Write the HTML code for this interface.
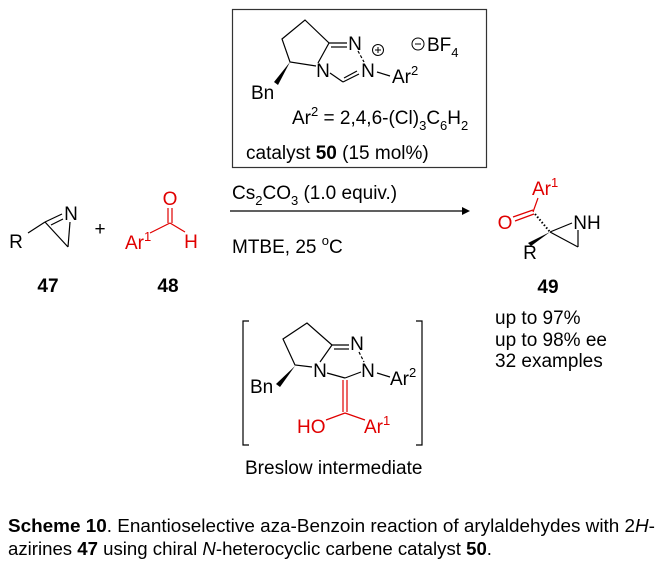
<!DOCTYPE html>
<html><head><meta charset="utf-8"><style>
html,body{margin:0;padding:0;background:#fff;}
svg{display:block;font-family:"Liberation Sans",Arial,sans-serif;}
.t{font-size:19px;fill:#000;}
.r{fill:#e00000;font-size:19px;}
.s{font-size:13px;}
.m{text-anchor:middle;}
</style></head><body>
<svg width="663" height="565" viewBox="0 0 663 565" xmlns="http://www.w3.org/2000/svg">
<g stroke="#000" stroke-width="1.2" fill="none">
<rect x="232.5" y="9.5" width="254" height="158" stroke="#333"/>
<polyline points="316,66 290,62 282,39 305,20 329,43 318,63"/>
<line x1="329" y1="43" x2="347" y2="43"/><line x1="331" y1="47" x2="347" y2="47"/>
<line x1="358" y1="51" x2="364" y2="62" stroke-dasharray="3,2"/>
<line x1="330" y1="73" x2="343" y2="82"/>
<line x1="343" y1="82" x2="359" y2="74"/><line x1="344" y1="78" x2="357" y2="71"/>
<line x1="377" y1="72" x2="390" y2="76"/>
<circle cx="378" cy="50" r="5.5" stroke-width="1"/><line x1="375" y1="50" x2="381" y2="50" stroke-width="1"/><line x1="378" y1="47" x2="378" y2="53" stroke-width="1"/>
<circle cx="418" cy="44" r="6" stroke-width="1"/><line x1="415" y1="44" x2="421" y2="44" stroke-width="1"/>
<line x1="230" y1="211" x2="462" y2="211"/>
<line x1="28" y1="233" x2="45" y2="222"/>
<line x1="45" y1="222" x2="62" y2="214"/><line x1="51" y1="225" x2="63" y2="219"/>
<line x1="45" y1="222" x2="68" y2="247"/><line x1="68" y1="247" x2="70" y2="222"/>
<g stroke="#e00000">
<line x1="150" y1="233" x2="170" y2="223"/><line x1="170" y1="223" x2="185" y2="232"/>
<line x1="168" y1="223" x2="168" y2="208"/><line x1="172" y1="223" x2="172" y2="208"/>
<line x1="513" y1="217" x2="533" y2="210"/><line x1="515" y1="221" x2="534" y2="214"/>
<line x1="533" y1="212" x2="538" y2="198"/>
<line x1="343" y1="380" x2="343" y2="412"/><line x1="347" y1="380" x2="347" y2="412"/>
<line x1="345" y1="413" x2="326" y2="420"/><line x1="345" y1="413" x2="365" y2="420"/>
</g>
<line x1="535" y1="214" x2="550" y2="232" stroke-dasharray="1.5,2" stroke-width="2"/>
<line x1="550" y1="232" x2="578" y2="247"/><line x1="578" y1="247" x2="578" y2="230"/><line x1="550" y1="232" x2="572" y2="223"/>
<polyline points="249,321 243,321 243,445 249,445"/>
<polyline points="416,321 422,321 422,445 416,445"/>
<polyline points="312,367 295,365 283,339 307,323 332,345 320,362"/>
<line x1="332" y1="345" x2="349" y2="345"/><line x1="334" y1="349" x2="349" y2="349"/>
<line x1="359" y1="352" x2="364" y2="362" stroke-dasharray="3,2"/>
<line x1="327" y1="373" x2="345" y2="378"/><line x1="345" y1="378" x2="361" y2="372"/>
<line x1="377" y1="373" x2="390" y2="377"/>
</g>
<polygon points="290,62 274,82 278,85" fill="#000"/>
<polygon points="462,207 470,211 462,215" fill="#000"/>
<polygon points="550,232 528,243 531,246" fill="#000"/>
<polygon points="295,366 276,384 280,387" fill="#000"/>
<g class="t">
<text class="m" x="355" y="50">N</text>
<text class="m" x="323" y="77">N</text>
<text class="m" x="368" y="77">N</text>
<text x="392" y="83">Ar<tspan class="s" dy="-8">2</tspan></text>
<text x="427" y="51">BF<tspan class="s" dy="6">4</tspan></text>
<text x="251" y="99">Bn</text>
<text x="292" y="124">Ar<tspan class="s" dy="-8">2</tspan><tspan dy="8"> = 2,4,6-(Cl)</tspan><tspan class="s" dy="6">3</tspan><tspan dy="-6">C</tspan><tspan class="s" dy="6">6</tspan><tspan dy="-6">H</tspan><tspan class="s" dy="6">2</tspan></text>
<text x="246" y="159">catalyst <tspan font-weight="bold">50</tspan> (15 mol%)</text>
<text x="232" y="199">Cs<tspan class="s" dy="6">2</tspan><tspan dy="-6">CO</tspan><tspan class="s" dy="6">3</tspan><tspan dy="-6"> (1.0 equiv.)</tspan></text>
<text x="232" y="253">MTBE, 25 <tspan class="s" dy="-8">o</tspan><tspan dy="8">C</tspan></text>
<text class="m" x="16" y="248">R</text>
<text class="m" x="71" y="220">N</text>
<text class="m" x="100" y="235">+</text>
<text class="m" x="48" y="292" font-weight="bold">47</text>
<text class="m" x="168" y="292" font-weight="bold">48</text>
<text class="m" x="587" y="229">NH</text>
<text class="m" x="530" y="259">R</text>
<text class="m" x="548" y="293" font-weight="bold">49</text>
<text x="495" y="324">up to 97%</text>
<text x="495" y="346">up to 98% ee</text>
<text x="495" y="367">32 examples</text>
<text class="m" x="320" y="377">N</text>
<text class="m" x="368" y="377">N</text>
<text class="m" x="357" y="350">N</text>
<text x="390" y="385">Ar<tspan class="s" dy="-8">2</tspan></text>
<text x="250" y="393">Bn</text>
<text x="245" y="474">Breslow intermediate</text>
</g>
<g class="r">
<text x="125" y="249">Ar<tspan class="s" dy="-8">1</tspan></text>
<text class="m" x="170" y="205">O</text>
<text class="m" x="191" y="248">H</text>
<text x="532" y="195">Ar<tspan class="s" dy="-8">1</tspan></text>
<text class="m" x="505" y="229">O</text>
<text x="297" y="433">HO</text>
<text x="364" y="433">Ar<tspan class="s" dy="-8">1</tspan></text>
</g>
<g font-size="18" fill="#000">
<text x="8" y="532" textLength="647" lengthAdjust="spacingAndGlyphs"><tspan font-weight="bold">Scheme 10</tspan>. Enantioselective aza-Benzoin reaction of arylaldehydes with 2<tspan font-style="italic">H</tspan>-</text>
<text x="8" y="555" textLength="484" lengthAdjust="spacingAndGlyphs">azirines <tspan font-weight="bold">47</tspan> using chiral <tspan font-style="italic">N</tspan>-heterocyclic carbene catalyst <tspan font-weight="bold">50</tspan>.</text>
</g>
</svg>
</body></html>
